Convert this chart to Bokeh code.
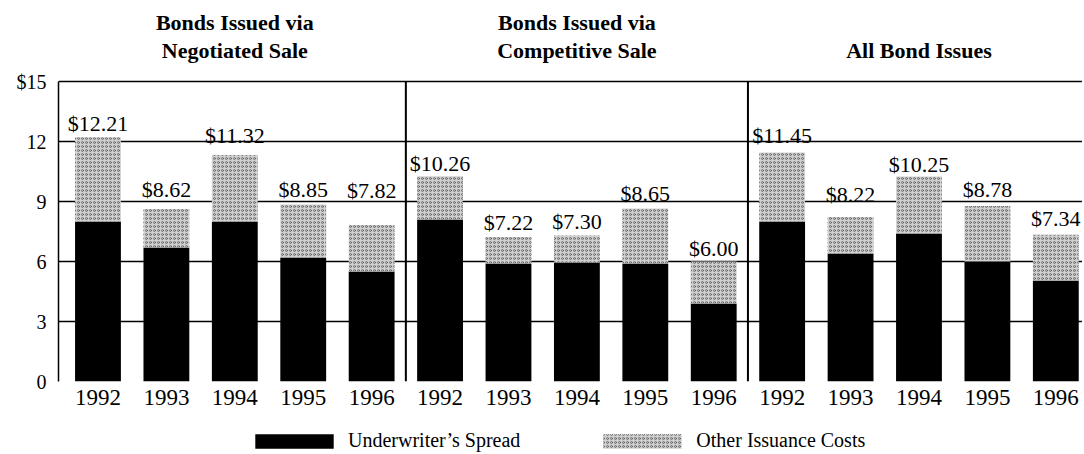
from bokeh.plotting import figure
from bokeh.models import (ColumnDataSource, Range1d, FixedTicker, Label,
                          Legend, LegendItem)
from bokeh.layouts import column
from bokeh.embed import file_html
from bokeh.resources import INLINE
from bokeh.core.properties import value

# ---------------- data ----------------
years = ["1992", "1993", "1994", "1995", "1996"]
panel_titles = [["Bonds Issued via", "Negotiated Sale"],
                ["Bonds Issued via", "Competitive Sale"],
                ["All Bond Issues"]]
negotiated_spread = [8.0, 6.7, 8.0, 6.2, 5.5]
negotiated_total = [12.21, 8.62, 11.32, 8.85, 7.82]
competitive_spread = [8.1, 5.9, 5.95, 5.9, 3.9]
competitive_total = [10.26, 7.22, 7.30, 8.65, 6.00]
all_spread = [8.0, 6.4, 7.4, 6.0, 5.05]
all_total = [11.45, 8.22, 10.25, 8.78, 7.34]
y_ticks = [0, 3, 6, 9, 12, 15]
legend_labels = ["Underwriter\u2019s Spread", "Other Issuance Costs"]

# label lift above bar top (pixels) - style only
label_lift = [14, 20, 20, 15, 35,
              13, 15, 14, 15, 13,
              17, 23, 12, 16, 16]

SERIF = "Liberation Serif"
GRAY = dict(fill_color="#d0d0d0", line_color=None, hatch_pattern="o",
            hatch_color="#5a5a5a", hatch_scale=4, hatch_weight=0.8)

spreads = negotiated_spread + competitive_spread + all_spread
totals = negotiated_total + competitive_total + all_total
xs = list(range(len(totals)))
year_labels = years * 3

W = 1082
H_MAIN = 417
BOTTOM = 36
LEFT = 58
TOP_PAD = 81                      # pixels above the $15 line (title area)
frame_h = H_MAIN - BOTTOM
ppu = (frame_h - TOP_PAD) / 15.0  # pixels per dollar
y_max = 15 + TOP_PAD / ppu

src = ColumnDataSource(dict(
    x=xs, spread=spreads, total=totals,
    label=[f"${t:.2f}" for t in totals],
    ly=[t + l / ppu for t, l in zip(totals, label_lift)],
))

p = figure(width=W, height=H_MAIN, x_range=Range1d(-0.577, 14.39),
           y_range=Range1d(0, y_max),
           output_backend="svg", toolbar_location=None,
           min_border_left=LEFT, min_border_right=0, min_border_top=0,
           min_border_bottom=BOTTOM)
p.background_fill_color = "white"
p.border_fill_color = "white"
p.outline_line_color = None

# grid (0..15 lines, including the top and bottom frame lines)
p.xgrid.visible = False
p.ygrid.ticker = FixedTicker(ticks=y_ticks)
p.ygrid.grid_line_color = "black"
p.ygrid.grid_line_width = 1.5

# axes
p.yaxis.ticker = FixedTicker(ticks=y_ticks)
p.yaxis.bounds = (y_ticks[0], y_ticks[-1])
p.yaxis.major_label_overrides = {15: "$15"}
p.yaxis.axis_line_color = "black"
p.yaxis.axis_line_width = 1.5
p.yaxis.major_tick_line_color = None
p.yaxis.minor_tick_line_color = None
p.yaxis.major_tick_out = 0
p.yaxis.major_tick_in = 0
p.yaxis.major_label_standoff = 12
p.yaxis.major_label_text_font = SERIF
p.yaxis.major_label_text_font_size = "20px"
p.yaxis.major_label_text_color = "black"

p.xaxis.ticker = FixedTicker(ticks=xs)
p.xaxis.major_label_overrides = {i: y for i, y in zip(xs, year_labels)}
p.xaxis.axis_line_color = None
p.xaxis.major_tick_line_color = None
p.xaxis.minor_tick_line_color = None
p.xaxis.major_tick_out = 0
p.xaxis.major_tick_in = 0
p.xaxis.major_label_standoff = 8
p.xaxis.major_label_text_font = SERIF
p.xaxis.major_label_text_font_size = "23px"
p.xaxis.major_label_text_color = "black"

# bars
r_black = p.vbar(x="x", width=0.67, bottom=0, top="spread", source=src,
                 fill_color="black", line_color=None)
r_gray = p.vbar(x="x", width=0.67, bottom="spread", top="total", source=src,
                **GRAY)

# value labels
p.text(x="x", y="ly", text="label", source=src, text_align="center",
       text_baseline="middle", text_font=value(SERIF), text_font_size="22px",
       text_color="black")

# panel dividers (between groups of 5 bars), from $0 to $15
div_x = [len(years) - 0.5, 2 * len(years) - 0.5]
p.segment(x0=div_x, x1=div_x, y0=[y_ticks[0]] * 2, y1=[y_ticks[-1]] * 2,
          line_color="black", line_width=2)

# panel titles
centers = [2, 7, 12]
for c, lines in zip(centers, panel_titles):
    n = len(lines)
    for k, line in enumerate(lines):
        off = 31 + (n - 1 - k) * 28
        p.add_layout(Label(x=c, y=15 + off / ppu, text=line, text_align="center",
                           text_baseline="alphabetic", text_font=SERIF,
                           text_font_size="22px", text_font_style="bold",
                           text_color="black"))

# ---------------- legend row ----------------
# same series renderers, in a strip whose y-range lies above every bar (only swatches show)
lg = figure(width=W, height=452 - H_MAIN, x_range=p.x_range, y_range=Range1d(100, 101),
            output_backend="svg", toolbar_location=None,
            x_axis_location=None, y_axis_location=None,
            min_border_left=0, min_border_right=0, min_border_top=0,
            min_border_bottom=0)
lg.outline_line_color = None
lg.xgrid.visible = False
lg.ygrid.visible = False
lr_black = lg.vbar(x="x", width=0.67, bottom=0, top="spread", source=src,
                   fill_color="black", line_color=None)
lr_gray = lg.vbar(x="x", width=0.67, bottom="spread", top="total", source=src, **GRAY)
legend = Legend(items=[LegendItem(label=legend_labels[0], renderers=[lr_black]),
                       LegendItem(label=legend_labels[1], renderers=[lr_gray])],
                orientation="horizontal", location=(187, 0),
                glyph_width=98, glyph_height=18, label_standoff=5, spacing=73,
                label_text_font=SERIF, label_text_font_size="20px",
                label_text_color="black", label_height=18,
                border_line_color=None, background_fill_alpha=0,
                padding=0, margin=0)
lg.add_layout(legend)

layout = column(p, lg, spacing=0)
open("out.html", "w").write(file_html(layout, INLINE))
